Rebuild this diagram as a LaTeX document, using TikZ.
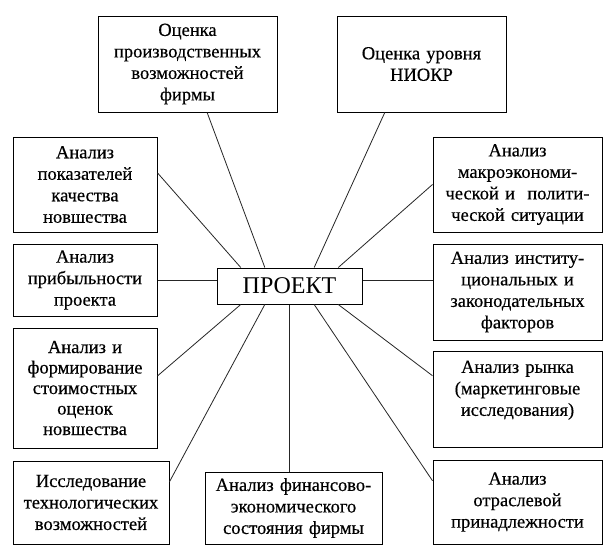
\documentclass[tikz,border=0pt]{standalone}
\usepackage{fontspec}
\setmainfont{Liberation Serif}[FakeBold=0.4]
\newfontfamily\plainserif{Liberation Serif}
\usetikzlibrary{calc}
\begin{document}
\begin{tikzpicture}[x=1pt,y=-1pt,
  box/.style={draw=black,line width=1pt,inner sep=0pt,align=center,
    font=\fontsize{18.5}{21.5}\selectfont},
  link/.style={draw=black!85,line width=0.8pt}]
\useasboundingbox (0,0) rectangle (613,557);
\fill[white] (0,0) rectangle (613,557);
% boxes
\node[box,minimum width=179pt,minimum height=96pt,text width=175pt] (tl) at (187.5,64) {Оценка\\производственных\\возможностей\\фирмы};
\node[box,minimum width=169pt,minimum height=96pt,text width=165pt] (tr) at (421.5,64) {Оценка уровня\\НИОКР};
\node[box,minimum width=144pt,minimum height=95pt,text width=140pt] (l1) at (85,184.5) {Анализ\\показателей\\качества\\новшества};
\node[box,minimum width=144pt,minimum height=72pt,text width=140pt] (l2) at (85,280) {Анализ\\прибыльности\\проекта};
\node[box,minimum width=144pt,minimum height=120pt,text width=140pt,font=\fontsize{18.5}{20.5}\selectfont] (l3) at (85,388) {Анализ и\\формирование\\стоимостных\\оценок\\новшества};
\node[box,minimum width=156pt,minimum height=83pt,text width=152pt] (l4) at (91,502.5) {Исследование\\технологических\\возможностей};
\node[box,minimum width=177pt,minimum height=72pt,text width=173pt] (bm) at (293.5,508) {Анализ финансово-\\экономического\\состояния фирмы};
\node[box,minimum width=145pt,minimum height=36pt,font=\plainserif\fontsize{24}{28}\selectfont] (pr) at (289.5,286) {ПРОЕКТ};
\node[box,minimum width=169pt,minimum height=95pt,text width=165pt] (r1) at (517.5,184.5) {Анализ\\макроэкономи-\\ческой и\ \ полити-\\ческой ситуации};
\node[box,minimum width=169pt,minimum height=96pt,text width=165pt] (r2) at (517.5,292) {Анализ институ-\\циональных и\\законодательных\\факторов};
\node[box,minimum width=169pt,minimum height=96pt,text width=165pt] (r3) at (517.5,399) {Анализ рынка\\(маркетинговые\\исследования)\\\mbox{}};
\node[box,minimum width=169pt,minimum height=84pt,text width=165pt] (r4) at (517.5,502) {Анализ\\отраслевой\\принадлежности};
% attachment points
\coordinate (pt1) at ($(pr.north west)!0.166!(pr.north east)$);
\coordinate (pt2) at ($(pr.north west)!0.331!(pr.north east)$);
\coordinate (pt3) at ($(pr.north west)!0.669!(pr.north east)$);
\coordinate (pt4) at ($(pr.north west)!0.834!(pr.north east)$);
\coordinate (pb1) at ($(pr.south west)!0.166!(pr.south east)$);
\coordinate (pb2) at ($(pr.south west)!0.331!(pr.south east)$);
\coordinate (pb4) at ($(pr.south west)!0.669!(pr.south east)$);
\coordinate (pb5) at ($(pr.south west)!0.834!(pr.south east)$);
\coordinate (tlb) at ($(tl.south west)!0.609!(tl.south east)$);
\coordinate (trb) at ($(tr.south west)!0.284!(tr.south east)$);
\coordinate (l1e) at ($(l1.north east)!0.379!(l1.south east)$);
\coordinate (l3e) at ($(l3.north east)!0.4!(l3.south east)$);
\coordinate (l4e) at ($(l4.north east)!0.253!(l4.south east)$);
\coordinate (r2w) at ($(r2.north west)!0.385!(r2.south west)$);
\coordinate (r3w) at ($(r3.north west)!0.26!(r3.south west)$);
\coordinate (r4w) at ($(r4.north west)!0.25!(r4.south west)$);
% connectors
\draw[link] (tlb) -- (pt2);
\draw[link] (l1e) -- (pt1);
\draw[link] (trb) -- (pt3);
\draw[link] (r1.west) -- (pt4);
\draw[link] (l2.east) -- (l2.east -| pr.west);
\draw[link] (r2w) -- (r2w -| pr.east);
\draw[link] (l3e) -- (pb1);
\draw[link] (l4e) -- (pb2);
\draw[link] (pr.south) -- (pr.south |- bm.north);
\draw[link] (r4w) -- (pb4);
\draw[link] (r3w) -- (pb5);
\end{tikzpicture}
\end{document}
